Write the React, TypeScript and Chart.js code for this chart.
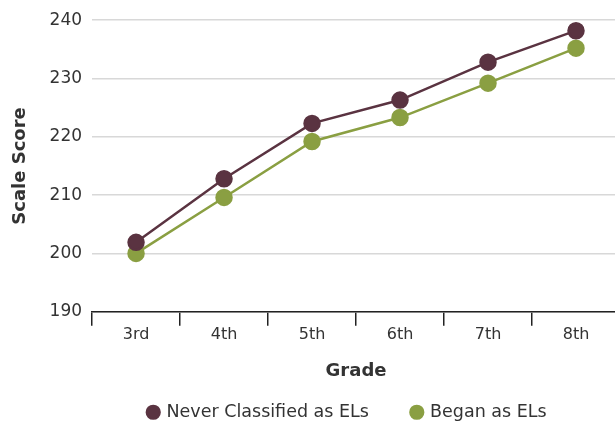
import React, { useEffect, useRef } from "react";
import { Chart, registerables } from "chart.js";

Chart.register(...registerables);

const grades = ["3rd", "4th", "5th", "6th", "7th", "8th"];
const neverEL = [201.9, 212.8, 222.3, 226.3, 232.8, 238.2];
const beganEL = [200.0, 209.6, 219.2, 223.3, 229.2, 235.2];
const yTicks = [190, 200, 210, 220, 230, 240];
const legendTrail = ["      ", "   "];

const MAROON = "#5a3341";
const GREEN = "#8a9f42";
const TEXT = "#333333";
const FONT = "'DejaVu Sans', sans-serif";

export default function App() {
  const ref = useRef<HTMLCanvasElement>(null);
  useEffect(() => {
    document.body.style.margin = "0";
    document.body.style.overflow = "hidden";
    const chart = new Chart(ref.current!, {
      type: "line",
      data: {
        labels: grades,
        datasets: [
          {
            label: "Never Classified as ELs",
            data: neverEL,
            borderColor: MAROON,
            backgroundColor: MAROON,
            pointBackgroundColor: MAROON,
            pointBorderColor: MAROON,
            borderWidth: 2.5,
            pointRadius: 7.5,
            tension: 0,
          },
          {
            label: "Began as ELs",
            data: beganEL,
            borderColor: GREEN,
            backgroundColor: GREEN,
            pointBackgroundColor: GREEN,
            pointBorderColor: GREEN,
            borderWidth: 2.5,
            pointRadius: 7.5,
            tension: 0,
          },
        ],
      },
      options: {
        responsive: false,
        animation: false,
        layout: { padding: { top: 10, bottom: -8, left: 10, right: 0 } },
        plugins: {
          tooltip: { enabled: false },
          legend: {
            position: "bottom",
            fullSize: false,
            labels: {
              usePointStyle: true,
              pointStyle: "circle",
              boxWidth: 9,
              boxHeight: 9,
              padding: 10,
              color: TEXT,
              font: { family: FONT, size: 17.5 },
              generateLabels: (c: any) => {
                const items = Chart.defaults.plugins.legend.labels.generateLabels(c);
                items.forEach((it: any, i: number) => {
                  it.text = it.text + (legendTrail[i] || "");
                });
                return items;
              },
            },
          },
        },
        scales: {
          x: {
            type: "category",
            offset: true,
            grid: {
              display: true,
              drawOnChartArea: false,
              drawTicks: true,
              tickLength: 14,
              color: "#222",
              lineWidth: 1.5,
              offset: true,
            },
            border: { display: true, color: "#222", width: 1.5 },
            ticks: {
              color: TEXT,
              font: { family: FONT, size: 16 },
              padding: 0,
            },
            title: {
              display: true,
              text: "Grade",
              color: TEXT,
              font: { family: FONT, size: 18, weight: "bold" },
              padding: { top: 16, bottom: 11 },
            },
          },
          y: {
            min: 190,
            max: 240,
            afterBuildTicks: (axis: any) => {
              axis.ticks = yTicks.map((v) => ({ value: v }));
            },
            grid: {
              color: "#d8d8d8",
              lineWidth: 1.5,
              drawTicks: false,
            },
            border: { display: false },
            ticks: {
              color: TEXT,
              font: { family: FONT, size: 17 },
              padding: 10,
            },
            title: {
              display: true,
              text: "Scale Score",
              color: TEXT,
              font: { family: FONT, size: 18, weight: "bold" },
              padding: { top: 0, bottom: 8 },
            },
          },
        },
      },
    });
    return () => chart.destroy();
  }, []);
  return (
    <div style={{ position: "absolute", left: 0, top: 0, width: 630, height: 423 }}>
      <canvas ref={ref} width={630} height={423} />
    </div>
  );
}
